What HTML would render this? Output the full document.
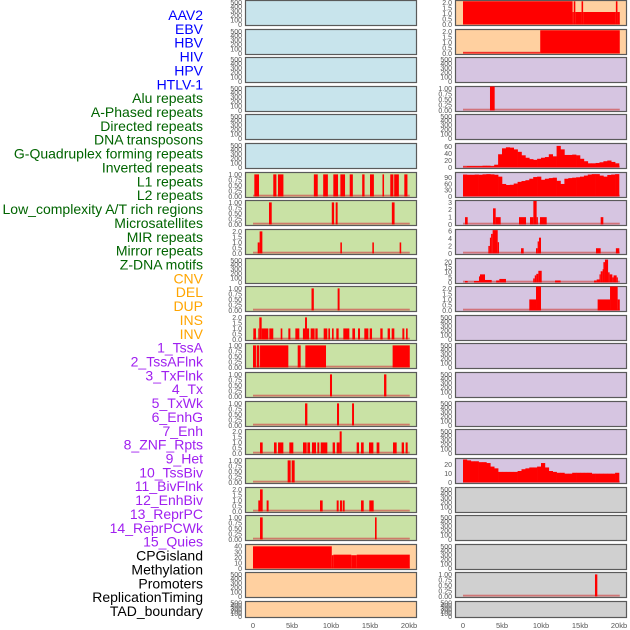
<!DOCTYPE html>
<html><head><meta charset="utf-8"><style>
html,body{margin:0;padding:0;background:#fff;width:630px;height:630px;overflow:hidden}
svg{display:block}
</style></head><body>
<svg id="chart" width="630" height="630" xmlns="http://www.w3.org/2000/svg"></svg>
<script>
// ---- labels ----
const labelTexts = ["AAV2","EBV","HBV","HIV","HPV","HTLV-1","Alu repeats","A-Phased repeats","Directed repeats","DNA transposons","G-Quadruplex forming repeats","Inverted repeats","L1 repeats","L2 repeats","Low_complexity A/T rich regions","Microsatellites","MIR repeats","Mirror repeats","Z-DNA motifs","CNV","DEL","DUP","INS","INV","1_TssA","2_TssAFlnk","3_TxFlnk","4_Tx","5_TxWk","6_EnhG","7_Enh","8_ZNF_Rpts","9_Het","10_TssBiv","11_BivFlnk","12_EnhBiv","13_ReprPC","14_ReprPCWk","15_Quies","CPGisland","Methylation","Promoters","ReplicationTiming","TAD_boundary"];
const labelGroups = [6,13,5,15,5];
const groupColors = ["#0000ff","#006400","#ffa500","#a020f0","#000000"];

// ---- x axis ----
const xTickValues = [0,5,10,15,20];
const xTickLabels = ["0","5kb","10kb","15kb","20kb"];
const dataEnd = 20.1;

// ---- tick sets ----
const tEmpty = [0,100,200,300,400,500];
const tOne = [0,0.25,0.5,0.75,1];
const tTwo = [0,0.5,1,1.5,2];

// ---- left column data (segments: start kb, end kb, value) ----
const segL6 = [[0.17,0.77,1],[2.6,3.0,1],[3.2,3.9,1],[7.8,8.3,1],[9.0,9.6,1],[10.3,10.9,1],[11.2,11.8,1],[12.4,12.8,1],[14.0,14.3,1],[15.0,15.5,1],[16.6,16.8,1],[17.6,18.0,1],[18.1,18.7,1],[19.4,19.8,1]];
const segL7 = [[2.05,2.4,1],[10.1,10.4,1],[10.6,10.85,1],[17.8,18.15,1]];
const segL8 = [[0.6,0.85,1],[0.85,1.2,2],[11.2,11.4,1],[15.3,15.5,1],[18.8,19.0,1]];
const segL10 = [[7.5,7.8,1],[10.85,11.1,1]];
const segL11 = [[0.04,0.38,1],[0.68,0.81,1],[0.81,1.11,2],[1.11,1.97,1],[2.09,2.6,1],[3.55,3.76,1],[4.53,4.79,1],[5.43,5.94,1],[6.4,6.67,1],[6.67,6.92,2],[6.92,7.2,1],[7.39,7.9,1],[7.99,8.29,1],[9.06,9.53,1],[9.66,9.87,1],[10.13,10.34,1],[10.68,10.98,1],[11.58,12.35,1],[12.74,13.08,1],[13.46,13.72,1],[14.27,14.79,1],[14.96,15.26,1],[16.32,16.62,1],[17.26,17.56,1],[17.78,18.12,1],[19.15,19.4,1],[19.62,19.83,1]];
const segL12 = [[0,0.38,1],[0.47,0.81,1],[0.9,4.53,1],[5.73,6.11,1],[6.71,9.36,1],[17.9,20.1,1]];
const segL13 = [[9.87,10.13,1],[16.8,17.1,1]];
const segL14 = [[6.67,6.97,1],[10.77,11.03,1],[12.7,12.95,1]];
const segL15 = [[0.9,1.24,1],[2.69,3.03,1],[3.21,3.89,1],[4.66,5.17,1],[6.41,6.88,1],[6.97,7.31,1],[7.56,8.08,1],[8.25,8.5,1],[8.68,9.53,1],[10.21,10.51,1],[10.73,11.11,1],[11.11,11.37,2],[13.29,13.59,1],[13.85,14.19,1],[14.87,15.43,1],[15.85,16.2,1],[17.95,18.42,1],[19.06,19.36,1],[19.57,19.83,1]];
const segL16 = [[4.44,4.83,1],[4.96,5.34,1]];
const segL17 = [[0.68,0.9,1],[0.9,1.24,2],[1.75,2.0,1],[8.59,8.93,1],[10.73,10.98,1],[11.15,11.41,1],[11.5,11.75,1],[13.85,14.19,1],[14.91,15.47,1]];
const segL18 = [[0.9,1.24,1],[15.64,15.85,1]];
const segL19 = [[0,10.1,40],[10.1,10.3,24],[10.3,12.6,25],[12.6,13.3,24],[13.3,20.1,25]];

// ---- right column data ----
const segR0 = [[0,14.05,2.1],[14.05,14.2,1.13],[14.2,14.4,2.1],[14.4,15.2,1.13],[15.2,15.4,2.1],[15.4,19.6,1.13],[19.6,19.8,2.1],[19.8,20.1,1.13]];
const segR1 = [[0,9.9,0.1],[9.9,20.1,2.1]];
const segR3 = [[3.46,4.06,1.1]];
const binsR5 = [3,4,4,4,4,5,5,4,8,38,55,58,57,52,45,35,28,24,22,25,28,30,38,32,62,52,36,36,37,35,25,18,12,12,13,15,18,20,16,12];
const binsR6 = [105,104,104,105,104,106,107,106,104,95,60,55,56,62,70,74,78,85,93,95,80,85,88,90,75,60,85,88,90,92,95,100,105,107,107,100,95,103,105,107];
const segR7 = [[0.26,0.6,1],[3.85,4.19,2.2],[4.19,4.83,1],[7.18,8.08,1],[8.59,9.02,1],[9.02,9.44,3.2],[9.44,9.6,1],[9.87,10.73,1],[17.65,17.99,1]];
const segR8 = [[3.25,3.45,2],[3.45,3.6,4.2],[3.6,3.8,5.2],[3.8,4.45,6.2],[4.45,4.62,3],[7.44,7.78,1.4],[9.36,9.57,1.4],[9.57,9.74,3.2],[9.74,10.0,4.2],[17.05,17.65,1.4],[19.6,20.04,1.4]];
const segR9 = [[0.26,0.6,1.5],[1.41,2.05,1.5],[2.05,2.18,6],[2.18,2.82,8],[2.82,3.68,2.5],[4.25,4.66,2],[4.66,5.51,3.5],[9.0,9.2,4],[9.2,9.4,7],[9.4,9.66,8.5],[9.66,10.09,11.5],[11.8,12.52,2],[16.8,17.14,2],[17.14,17.5,3],[17.5,17.65,8],[17.65,17.9,11],[17.9,18.0,13],[18.0,18.2,20],[18.2,18.6,22.5],[18.6,18.8,10],[18.8,19.15,8],[19.15,19.3,5],[19.3,19.7,7],[19.7,19.85,5]];
const segR10 = [[8.5,9.36,1],[9.36,10.0,2.2],[17.26,18.85,1],[18.85,19.83,2.2],[19.83,20.1,1]];
const binsR16 = [26,25,24,24,23,23,22,18,16,12,12,12,12,12,13,15,16,17,17,18,22,17,13,12,11,11,10,10,11,11,11,11,11,10,10,10,10,10,10,11];
const segR20 = [[16.92,17.22,1]];

const BLUE="#c8e4ec", GREEN="#c9e2a5", ORANGE="#ffd0a0", PURPLE="#d6c5e1", GRAY="#d0d0d0";

function P(bg,ticks,dec,ymax,segs,bins){return {bg,ticks,dec,ymax,segs,bins};}
const leftPanels = [
 P(BLUE,tEmpty,0,520),P(BLUE,tEmpty,0,520),P(BLUE,tEmpty,0,520),P(BLUE,tEmpty,0,520),P(BLUE,tEmpty,0,520),P(BLUE,tEmpty,0,520),
 P(GREEN,tOne,2,1.04,segL6),P(GREEN,tOne,2,1.04,segL7),P(GREEN,tTwo,1,2.08,segL8),P(GREEN,tEmpty,0,520),
 P(GREEN,tOne,2,1.04,segL10),P(GREEN,tTwo,1,2.08,segL11),P(GREEN,tOne,2,1.04,segL12),P(GREEN,tOne,2,1.04,segL13),
 P(GREEN,tOne,2,1.04,segL14),P(GREEN,tTwo,1,2.08,segL15),P(GREEN,tOne,2,1.04,segL16),P(GREEN,tTwo,1,2.08,segL17),
 P(GREEN,tOne,2,1.04,segL18),P(ORANGE,[0,10,20,30,40],0,41.5,segL19),P(ORANGE,tEmpty,0,520),P(ORANGE,tEmpty,0,520)
];
const rightPanels = [
 P(ORANGE,tTwo,1,2.08,segR0),P(ORANGE,tTwo,1,2.08,segR1),P(PURPLE,tEmpty,0,520),P(PURPLE,tOne,2,1.04,segR3),
 P(PURPLE,tEmpty,0,520),P(PURPLE,[0,20,40,60],0,66,null,binsR5),P(PURPLE,[0,30,60,90],0,110,null,binsR6),
 P(PURPLE,[0,1,2,3],0,3.13,segR7),P(PURPLE,[0,2,4,6],0,6.1,segR8),P(PURPLE,[0,5,10,15,20],0,22.6,segR9),
 P(PURPLE,tTwo,1,2.08,segR10),P(PURPLE,tEmpty,0,520),P(PURPLE,tEmpty,0,520),P(PURPLE,tEmpty,0,520),
 P(PURPLE,tEmpty,0,520),P(PURPLE,tEmpty,0,520),P(PURPLE,[0,10,20],0,26,null,binsR16),
 P(GRAY,tEmpty,0,520),P(GRAY,tEmpty,0,520),P(GRAY,tEmpty,0,520),P(GRAY,tOne,2,1.04,segR20),P(GRAY,tEmpty,0,520)
];

const NS="http://www.w3.org/2000/svg";
const svg=document.getElementById('chart');
function el(tag,attrs,parent){const e=document.createElementNS(NS,tag);for(const k in attrs)e.setAttribute(k,attrs[k]);(parent||svg).appendChild(e);return e;}

let li=0;
labelGroups.forEach((n,g)=>{for(let k=0;k<n;k++){
  const t=el('text',{x:203,y:15+li*13.86+5,'text-anchor':'end','font-family':'Liberation Sans, sans-serif','font-size':14,fill:groupColors[g]});
  t.textContent=labelTexts[li];
  
  
  li++;}});

function drawColumn(panels,px,colName){
  const w=171;
  const x0=px+8, kbPx=7.8;
  const xs=kb=>x0+kb*kbPx;
  panels.forEach((p,i)=>{
    const y=Math.round(i*28.62), h=(i===panels.length-1)?16:25;
    const g=el('g',{});
    
    
    const bg=el('rect',{x:px+0.5,y:y+0.5,width:w,height:h,fill:p.bg,stroke:'#5a5a5a','stroke-width':1.2},g);
    
    
    const bot=y+h-0.5, top=y+1.5;
    const ys=v=>bot-(v/p.ymax)*(bot-top);
    p.ticks.forEach(tv=>{
      const t=el('text',{x:px-3,y:ys(tv)+2.4,'text-anchor':'end','font-family':'Liberation Sans, sans-serif','font-size':7,fill:'#555'},g);
      t.textContent=tv.toFixed(p.dec);
      
      
    });
    const hasData=p.segs||p.bins;
    if(hasData){
      const base=el('rect',{x:xs(0),y:bot-1.8,width:xs(dataEnd)-xs(0),height:1.8,fill:'#d05050',opacity:0.7},g);
      
      
    }
    if(p.segs){p.segs.forEach(s=>{
      const yy=Math.max(top-1,ys(s[2]));
      const r=el('rect',{x:xs(s[0]),y:yy,width:Math.max(1,xs(s[1])-xs(s[0])),height:bot-yy,fill:'#ff0000'},g);
      
      
    });}
    if(p.bins){p.bins.forEach((v,k)=>{
      const yy=Math.max(top-1,ys(v));
      const r=el('rect',{x:xs(k*0.5),y:yy,width:0.5*kbPx+0.3,height:bot-yy,fill:'#ff0000'},g);
      
      
    });}
  });
  xTickValues.forEach((v,k)=>{
    const t=el('text',{x:xs(v),y:628,'text-anchor':'middle','font-family':'Liberation Sans, sans-serif','font-size':7.5,fill:'#555'});
    t.textContent=xTickLabels[k];
    
    
  });
}
drawColumn(leftPanels,245,'left');
drawColumn(rightPanels,455,'right');
</script>
</body></html>
